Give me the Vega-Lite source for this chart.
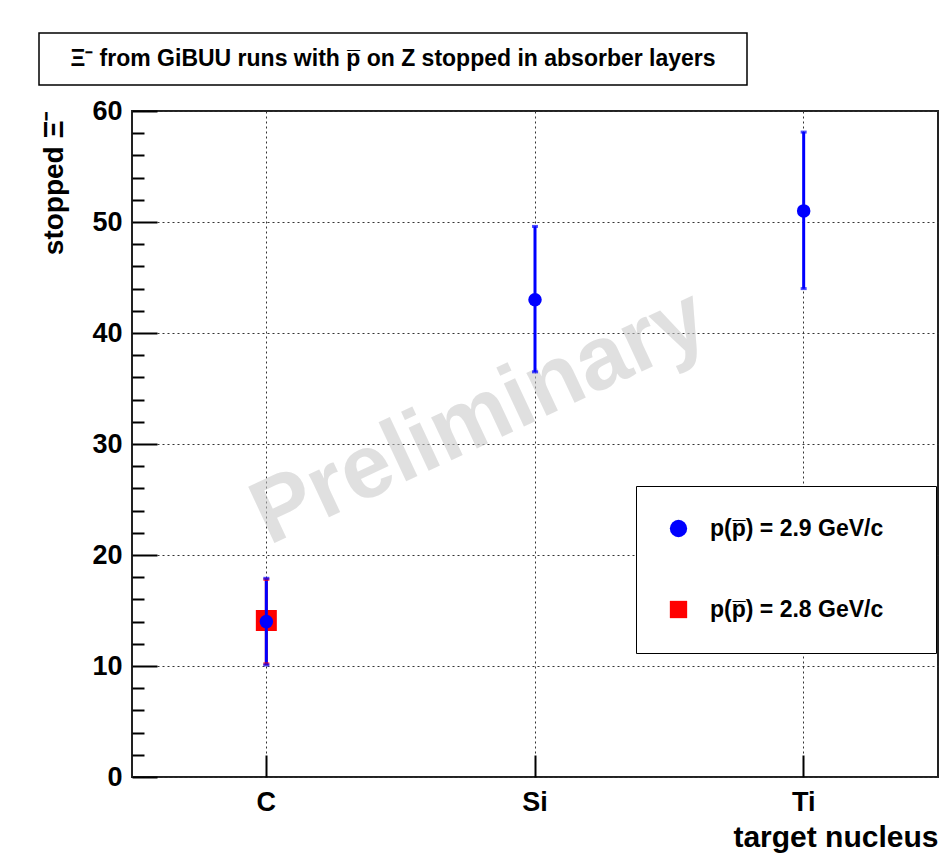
{
  "$schema": "https://vega.github.io/schema/vega-lite/v6.json",
  "padding": {"left": 38, "top": 32, "right": 6, "bottom": 3},
  "background": "white",
  "spacing": 11,
  "config": {
    "font": "Liberation Sans",
    "legend": {"orient": "none", "legendX": 597, "legendY": 453},
    "axis": {"labelFont": "Liberation Sans", "titleFont": "Liberation Sans", "labelFontWeight": "bold", "titleFontWeight": "bold", "labelColor": "black", "titleColor": "black"}
  },
  "vconcat": [
    {
      "width": 708,
      "height": 52,
      "view": {"stroke": "black", "strokeWidth": 1.5, "fill": "white"},
      "data": {"values": [{"title": "Ξ⁻ from GiBUU runs with p̅ on Z stopped in absorber layers"}]},
      "mark": {"type": "text", "font": "Liberation Sans", "fontWeight": "bold", "fontSize": 23, "color": "black", "align": "center", "baseline": "middle"},
      "encoding": {"text": {"field": "title", "type": "nominal"}}
    },
    {
      "spacing": 0,
      "data": {"values": [
        {"target": "C", "series": "p(p̅) = 2.8 GeV/c", "value": 14.1, "lo": 10.2, "hi": 17.8},
        {"target": "C", "series": "p(p̅) = 2.9 GeV/c", "value": 14.0, "lo": 10.1, "hi": 17.9},
        {"target": "Si", "series": "p(p̅) = 2.9 GeV/c", "value": 43.0, "lo": 36.5, "hi": 49.6},
        {"target": "Ti", "series": "p(p̅) = 2.9 GeV/c", "value": 51.0, "lo": 44.0, "hi": 58.1}
      ]},
      "hconcat": [
        {
          "width": 91,
          "height": 666,
          "view": {"stroke": null},
          "mark": {"type": "rule", "opacity": 0},
          "encoding": {
            "y": {"field": "lo", "type": "quantitative", "scale": {"domain": [0, 60], "nice": false},
              "axis": {"orient": "left", "offset": -91, "title": "stopped Ξ⁻", "titleFontSize": 28, "titleAnchor": "end", "titlePadding": 23, "values": [0, 10, 20, 30, 40, 50, 60], "labelFontSize": 27, "labelPadding": 8, "ticks": false, "domain": false, "grid": false}},
            "y2": {"field": "hi"}
          }
        },
        {
          "width": 806,
          "height": 666,
          "view": {"stroke": "#222", "strokeWidth": 2},
          "layer": [
            {
              "data": {"values": [{"label": "Preliminary"}]},
              "mark": {"type": "text", "font": "Liberation Sans", "fontWeight": "bold", "fontSize": 90, "color": "#c8c8c8", "opacity": 0.55, "angle": 335, "align": "center", "baseline": "middle"},
              "encoding": {
                "x": {"datum": "Si", "type": "nominal", "bandPosition": 0.294, "scale": {"type": "band", "domain": ["C", "Si", "Ti"], "paddingInner": 0, "paddingOuter": 0},
                  "axis": {"title": "target nucleus", "titleFontSize": 30, "titleAnchor": "end", "titlePadding": 7, "labelFontSize": 27, "labelAngle": 0, "labelPadding": 34, "tickSize": -22, "tickColor": "black", "tickWidth": 2, "domain": false, "grid": true, "gridDash": [2, 3], "gridColor": "#333", "gridWidth": 1}},
                "y": {"datum": 32.4, "type": "quantitative", "scale": {"domain": [0, 60], "nice": false},
                  "axis": {"title": null, "values": [0, 10, 20, 30, 40, 50, 60], "labels": false, "tickSize": -25, "tickColor": "black", "tickWidth": 2, "domain": false, "grid": true, "gridDash": [2, 3], "gridColor": "#333", "gridWidth": 1}},
                "text": {"field": "label", "type": "nominal"}
              }
            },
            {
              "transform": [{"filter": "datum.series == 'p(p̅) = 2.8 GeV/c'"}],
              "mark": {"type": "rule", "color": "#ff0000", "strokeWidth": 3},
              "encoding": {
                "x": {"field": "target", "type": "nominal"},
                "y": {"field": "lo", "type": "quantitative", "axis": {"orient": "left", "values": [2, 4, 6, 8, 12, 14, 16, 18, 22, 24, 26, 28, 32, 34, 36, 38, 42, 44, 46, 48, 52, 54, 56, 58], "labels": false, "grid": false, "domain": false, "title": null, "tickSize": -12, "tickColor": "black", "tickWidth": 2}},
                "y2": {"field": "hi"}
              }
            },
            {
              "transform": [{"filter": "datum.series == 'p(p̅) = 2.8 GeV/c'"}],
              "mark": {"type": "point", "filled": true, "opacity": 1},
              "encoding": {
                "x": {"field": "target", "type": "nominal"},
                "y": {"field": "value", "type": "quantitative", "axis": null},
                "color": {"field": "series", "type": "nominal", "scale": {"domain": ["p(p̅) = 2.9 GeV/c", "p(p̅) = 2.8 GeV/c"], "range": ["#0000ff", "#ff0000"]}, "legend": {"title": "W", "titleOpacity": 0, "titleOrient": "right", "titleFontSize": 20, "titlePadding": 3, "padding": 31, "rowPadding": 57, "labelFontSize": 23, "labelFontWeight": "bold", "labelFont": "Liberation Sans", "labelColor": "black", "labelOffset": 20, "labelLimit": 400, "strokeColor": "black", "fillColor": "white", "symbolStrokeWidth": 0, "symbolOpacity": 1, "symbolSize": 300}},
                "shape": {"field": "series", "type": "nominal", "scale": {"domain": ["p(p̅) = 2.9 GeV/c", "p(p̅) = 2.8 GeV/c"], "range": ["circle", "square"]}},
                "size": {"field": "series", "type": "nominal", "scale": {"type": "ordinal", "domain": ["p(p̅) = 2.9 GeV/c", "p(p̅) = 2.8 GeV/c"], "range": [324, 441]}}
              }
            },
            {
              "transform": [{"filter": "datum.series == 'p(p̅) = 2.9 GeV/c'"}],
              "mark": {"type": "rule", "color": "#0000ff", "strokeWidth": 3},
              "encoding": {
                "x": {"field": "target", "type": "nominal"},
                "y": {"field": "lo", "type": "quantitative", "axis": null},
                "y2": {"field": "hi"}
              }
            },
            {
              "mark": {"type": "tick", "orient": "horizontal", "size": 6, "thickness": 3},
              "encoding": {
                "x": {"field": "target", "type": "nominal"},
                "y": {"field": "lo", "type": "quantitative", "axis": null},
                "color": {"field": "series", "type": "nominal", "legend": null}
              }
            },
            {
              "mark": {"type": "tick", "orient": "horizontal", "size": 6, "thickness": 3},
              "encoding": {
                "x": {"field": "target", "type": "nominal"},
                "y": {"field": "hi", "type": "quantitative", "axis": null},
                "color": {"field": "series", "type": "nominal", "legend": null}
              }
            },
            {
              "transform": [{"filter": "datum.series == 'p(p̅) = 2.9 GeV/c'"}],
              "mark": {"type": "point", "filled": true, "opacity": 1},
              "encoding": {
                "x": {"field": "target", "type": "nominal"},
                "y": {"field": "value", "type": "quantitative", "axis": null},
                "color": {"field": "series", "type": "nominal"},
                "shape": {"field": "series", "type": "nominal"},
                "size": {"field": "series", "type": "nominal"}
              }
            }
          ],
          "resolve": {"axis": {"y": "independent"}}
        }
      ]
    }
  ]
}
